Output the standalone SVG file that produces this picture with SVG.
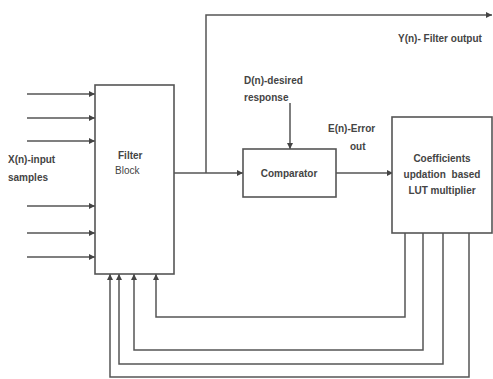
<svg xmlns="http://www.w3.org/2000/svg" width="493" height="379" viewBox="0 0 493 379">
<defs>
<marker id="ah" viewBox="0 0 8 8" refX="8" refY="4" markerWidth="6" markerHeight="6" markerUnits="userSpaceOnUse" orient="auto">
<path d="M0,0 L8,4 L0,8 z" fill="#444"/>
</marker>
<style>
.box{fill:#fff;stroke:#555;stroke-width:1.6}
.ln{fill:none;stroke:#555;stroke-width:1.5}
.t{font-family:"Liberation Sans",Arial,sans-serif;font-size:10px;font-weight:bold;fill:#444}
.c{text-anchor:middle}
</style>
</defs>
<rect width="493" height="379" fill="#fff"/>
<g id="connectors">
<path class="ln" d="M27,94 H95" marker-end="url(#ah)"/>
<path class="ln" d="M27,118 H95" marker-end="url(#ah)"/>
<path class="ln" d="M27,141 H95" marker-end="url(#ah)"/>
<path class="ln" d="M27,206 H95" marker-end="url(#ah)"/>
<path class="ln" d="M27,233 H95" marker-end="url(#ah)"/>
<path class="ln" d="M27,257 H95" marker-end="url(#ah)"/>
<path class="ln" d="M174,173 H243" marker-end="url(#ah)"/>
<path class="ln" d="M206,173 V15 H492" marker-end="url(#ah)"/>
<path class="ln" d="M290,103 V149" marker-end="url(#ah)"/>
<path class="ln" d="M336,173 H393" marker-end="url(#ah)"/>
<path class="ln" d="M405,233 V317 H156 V274" marker-end="url(#ah)"/>
<path class="ln" d="M423,233 V350 H134 V274" marker-end="url(#ah)"/>
<path class="ln" d="M443,233 V364 H119 V274" marker-end="url(#ah)"/>
<path class="ln" d="M469,233 V377 H110 V274" marker-end="url(#ah)"/>
</g>
<g id="filter">
<rect class="box" x="95" y="85" width="79" height="189"/>
<text class="t" x="118" y="159">Filter</text>
<text class="t" x="115" y="174" style="font-weight:normal">Block</text>
</g>
<g id="comparator">
<rect class="box" x="243" y="149" width="93" height="48"/>
<text class="t c" x="289" y="177">Comparator</text>
</g>
<g id="coeff">
<rect class="box" x="392" y="117" width="100" height="116"/>
<text class="t c" x="442" y="162">Coefficients</text>
<text class="t c" x="442" y="178" style="word-spacing:3px">updation based</text>
<text class="t c" x="442" y="194">LUT multiplier</text>
</g>
<g id="labels">
<text class="t" x="8" y="163">X(n)-input</text>
<text class="t" x="8" y="181">samples</text>
<text class="t" x="398" y="42">Y(n)- Filter output</text>
<text class="t" x="244" y="84">D(n)-desired</text>
<text class="t" x="244" y="101">response</text>
<text class="t" x="328" y="132">E(n)-Error</text>
<text class="t" x="350" y="150">out</text>
</g>
</svg>
